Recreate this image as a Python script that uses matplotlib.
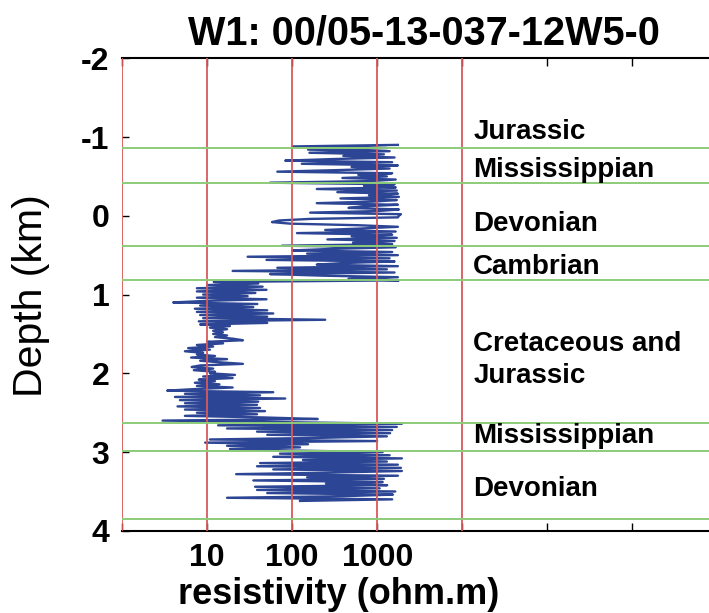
import numpy as np
import matplotlib
matplotlib.use("Agg")
import matplotlib.pyplot as plt

plt.rcParams["font.family"] = ["Liberation Sans", "DejaVu Sans"]

# ------------------------------------------------------------------
# Registro de resistividad (ohm.m), muestreado cada 0.02 km
# ------------------------------------------------------------------
TITULO = "W1: 00/05-13-037-12W5-0"
PASO_KM = 0.02

# Jurasico + Misisipico + parte alta del Devonico
TOPE_1 = -0.90
RES_1 = [1750, 100, 1300, 154, 1400, 160, 1200, 400, 1600, 300,
         83, 1500, 130, 1750, 500, 1400, 350, 67, 1500, 600,
         1300, 390, 1650, 800, 55, 1600, 700, 1650, 195, 1700,
         340, 1750, 800, 1800, 370, 1700, 900, 195, 1750, 700,
         460, 1800, 1000, 163, 1900, 1800]
# Devonico (con la caida cerca de 0.08 km)
TOPE_2 = 0.02
RES_2 = [1750, 160, 70, 58, 95, 600, 1750, 700, 245, 1650,
         114, 1500, 500, 1700, 260, 1600, 520, 1500, 76]
# Cambrico
TOPE_3 = 0.40
RES_3 = [1650, 300, 100, 1500, 150, 1750, 30, 1400, 50, 1600,
         400, 195, 1750, 67, 1300, 20, 1600, 55, 225, 1750,
         460, 1800]
# Cretacico y Jurasico (baja resistividad)
TOPE_4 = 0.84
RES_4 = [12, 40, 10, 45, 7.6, 50, 7.6, 37, 9, 30,
         7.6, 50, 10, 4.0, 39, 8.3, 35, 7.2, 51, 7.6,
         60, 8.3, 51, 9, 245, 8, 51, 8.3, 18.6, 10.8,
         17.2, 11.8, 15.4, 11.8, 17.2, 12.4, 20, 26.4, 10, 15.4,
         7.6, 11.8, 6.0, 10.8, 5.5, 9.0, 7.6, 12.4, 6.5, 17.2,
         8.3, 14, 26.4, 8.3, 6.6, 11.8, 7.0, 12.4, 10.8, 21.3,
         9.0, 20, 8.0, 12.4, 7.2, 14, 7.6, 20, 7.2, 3.4,
         60, 5.5, 42, 4.2, 83, 4.8, 40, 5.5, 38.7, 4.5,
         42, 5.5, 48, 7.6, 38.7, 5.5, 45, 200, 3.0, 72]
# Misisipico
TOPE_5 = 2.64
RES_5 = [1950, 13.5, 1700, 17.2, 1500, 38.7, 1420, 51, 1300, 200,
         10.8, 1000, 9.5, 154, 17.2, 124, 18.6, 95]
# Devonico
TOPE_6 = 3.00
RES_6 = [1160, 72, 1400, 60, 1950, 134, 1300, 42, 1750, 38.7,
         1900, 60, 1950, 300, 22, 1750, 150, 1200, 35, 1160,
         250, 1310, 36.7, 1070, 38.7, 1630, 51, 1530, 400, 17.2,
         1500, 124]

TRAMOS = [(TOPE_1, RES_1), (TOPE_2, RES_2), (TOPE_3, RES_3),
          (TOPE_4, RES_4), (TOPE_5, RES_5), (TOPE_6, RES_6)]

# Contactos entre formaciones (km) y nombres
CONTACTOS = [-0.86, -0.41, 0.38, 0.82, 2.63, 2.98, 3.85]
FORMACIONES = ["Jurassic", "Mississippian", "Devonian", "Cambrian",
               "Cretaceous and\nJurassic", "Mississippian", "Devonian"]
PROF_ETIQUETAS = [-1.06, -0.58, 0.11, 0.65, 1.83, 2.80, 3.47]

DECADAS_GRILLA = [1, 10, 100, 1000, 10000]
TICKS_X = [1, 10, 100, 1000, 10000, 1e5, 1e6]
ETIQ_X = ["", "10", "100", "1000", "", "", ""]
TICKS_Y = [-2, -1, 0, 1, 2, 3, 4]

COLOR_LOG = "#2c4594"
COLOR_ROJO = "#d9595a"
COLOR_VERDE = "#8ccb78"

prof = np.concatenate([tope + PASO_KM * np.arange(len(r)) for tope, r in TRAMOS])
res = np.concatenate([np.asarray(r, dtype=float) for _, r in TRAMOS])

fig = plt.figure(figsize=(7.09, 6.13), dpi=100)
ax = fig.add_axes([0.172, 0.134, 0.828, 0.771])

ax.plot(res, prof, color=COLOR_LOG, lw=1.7, zorder=2)

for d in DECADAS_GRILLA:
    ax.axvline(d, color=COLOR_ROJO, lw=1.3, zorder=3)
for c in CONTACTOS:
    ax.axhline(c, color=COLOR_VERDE, lw=1.4, zorder=3)

ax.set_xscale("log")
ax.set_xlim(1, 10 ** 6.9)
ax.set_ylim(4, -2)
ax.set_xticks(TICKS_X)
ax.set_xticklabels(ETIQ_X)
ax.xaxis.set_minor_locator(matplotlib.ticker.NullLocator())
ax.set_yticks(TICKS_Y)
ax.set_yticklabels([str(t) for t in TICKS_Y])

ax.tick_params(axis="x", direction="in", top=True, bottom=True, length=6,
               width=1, labelsize=23, pad=9)
ax.tick_params(axis="y", direction="in", left=True, right=False, length=5,
               width=1, labelsize=23, pad=9)
for lab in ax.get_xticklabels() + ax.get_yticklabels():
    lab.set_fontweight("bold")

ax.spines["left"].set_visible(False)
ax.spines["right"].set_visible(False)
ax.spines["top"].set_linewidth(1.5)
ax.spines["bottom"].set_linewidth(1.5)

for nombre, y in zip(FORMACIONES, PROF_ETIQUETAS):
    ax.text(10 ** 4.13, y, nombre, fontsize=20, fontweight="bold",
            ha="left", va="center", linespacing=1.3)

fig.text(0.598, 0.946, TITULO, fontsize=28.5, fontweight="bold",
         ha="center", va="center")
fig.text(0.477, 0.03, "resistivity (ohm.m)", fontsize=26, fontweight="bold",
         ha="center", va="center")
fig.text(0.044, 0.518, "Depth (km)", fontsize=29.5, rotation=90,
         ha="center", va="center")

fig.savefig("out.png", dpi=100)
